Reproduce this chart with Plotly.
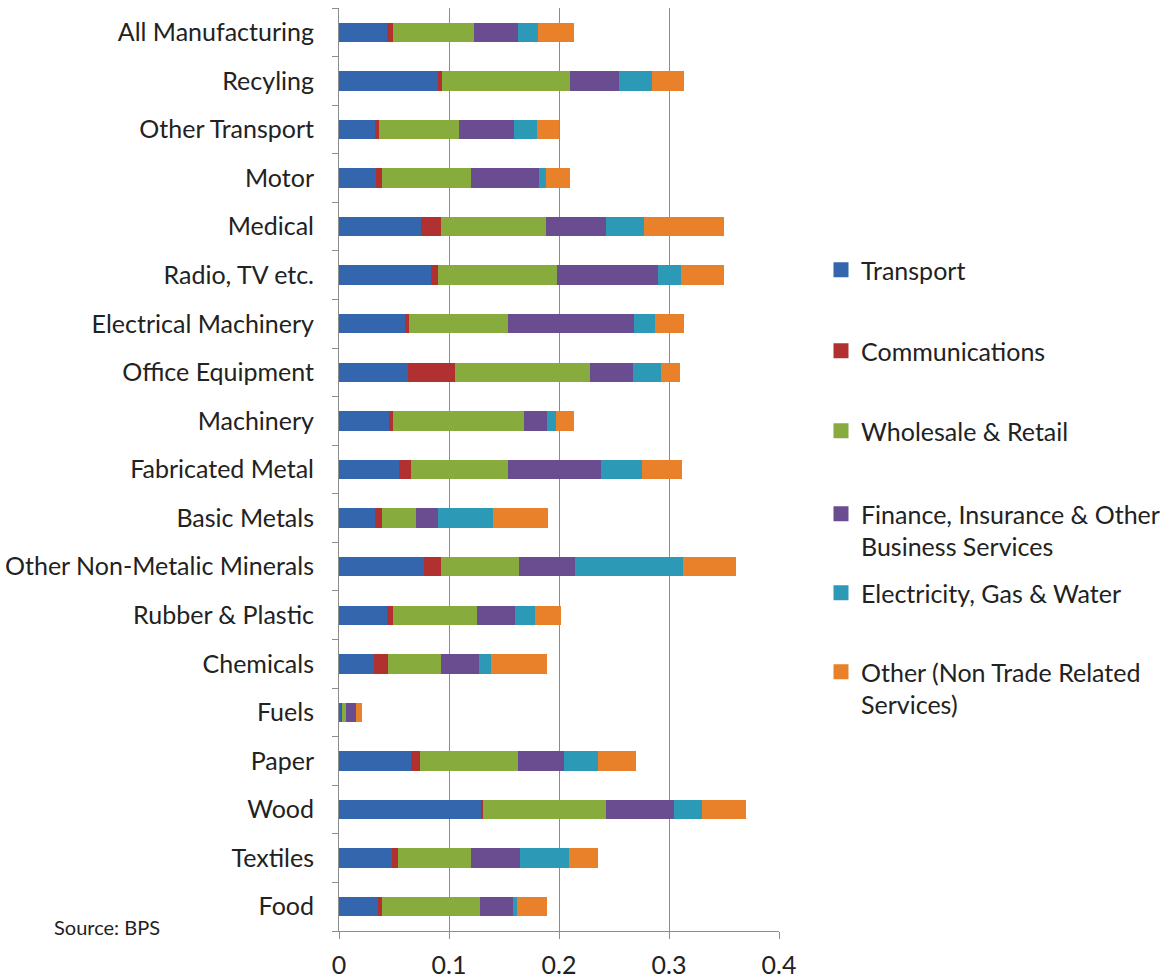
import plotly.graph_objects as go

# Industries, bottom to top
industries = [
    "Food", "Textiles", "Wood", "Paper", "Fuels", "Chemicals", "Rubber & Plastic",
    "Other Non-Metalic Minerals", "Basic Metals", "Fabricated Metal", "Machinery",
    "Office Equipment", "Electrical Machinery", "Radio, TV etc.", "Medical",
    "Motor", "Other Transport", "Recyling", "All Manufacturing",
]

transport = [0.0355, 0.0482, 0.1288, 0.0658, 0.0027, 0.0315, 0.0436, 0.0770, 0.0327, 0.0548,
             0.0455, 0.0630, 0.0597, 0.0839, 0.0748, 0.0339, 0.0327, 0.0900, 0.0436]
communications = [0.0033, 0.0057, 0.0021, 0.0081, 0.0003, 0.0130, 0.0058, 0.0154, 0.0061, 0.0107,
                  0.0039, 0.0422, 0.0036, 0.0061, 0.0176, 0.0049, 0.0040, 0.0036, 0.0058]
wholesale_retail = [0.0897, 0.0664, 0.1118, 0.0885, 0.0031, 0.0479, 0.0758, 0.0709, 0.0312, 0.0884,
                    0.1185, 0.1233, 0.0906, 0.1085, 0.0955, 0.0815, 0.0721, 0.1164, 0.0733]
finance_business = [0.0294, 0.0442, 0.0618, 0.0418, 0.0094, 0.0349, 0.0348, 0.0512, 0.0200, 0.0840,
                    0.0212, 0.0385, 0.1143, 0.0918, 0.0548, 0.0618, 0.0500, 0.0442, 0.0397]
utilities = [0.0042, 0.0446, 0.0255, 0.0313, 0.0003, 0.0106, 0.0185, 0.0979, 0.0503, 0.0373,
             0.0079, 0.0257, 0.0188, 0.0209, 0.0349, 0.0058, 0.0209, 0.0303, 0.0185]
other_services = [0.0270, 0.0267, 0.0397, 0.0348, 0.0054, 0.0512, 0.0233, 0.0488, 0.0497, 0.0369,
                  0.0163, 0.0173, 0.0263, 0.0385, 0.0721, 0.0221, 0.0206, 0.0291, 0.0324]

series = [
    ("Transport", transport, "#3366AC"),
    ("Communications", communications, "#B0312F"),
    ("Wholesale & Retail", wholesale_retail, "#87AB3D"),
    ("Finance, Insurance & Other<br>Business Services", finance_business, "#6A4C91"),
    ("Electricity, Gas & Water", utilities, "#2C9AB6"),
    ("Other (Non Trade Related<br>Services)", other_services, "#E8812A"),
]

x_ticks = [0, 0.1, 0.2, 0.3, 0.4]

font_family = "Lato, 'Open Sans', sans-serif"

W, H = 1164, 979
ML, MR, MT, MB = 339, 385, 8, 48
pw = W - ML - MR
ph = H - MT - MB

# first-line centre (px from top) of each legend entry
legend_rows = [271, 352, 432, 515, 594, 673]
legend_left = 821

fig = go.Figure()
legend_layouts = {}
for i, (name, vals, color) in enumerate(series):
    fig.add_trace(go.Bar(
        y=industries, x=vals, name=name, orientation="h",
        marker=dict(color=color, line=dict(width=0)),
        showlegend=False,
    ))
    key = "legend" if i == 0 else f"legend{i + 1}"
    fig.add_trace(go.Scatter(
        x=[None], y=[None], mode="markers", name=name,
        marker=dict(symbol="square", size=15, color=color),
        legend=key, showlegend=True, hoverinfo="skip",
    ))
    top_px = legend_rows[i] - 24
    legend_layouts[key] = dict(
        x=(legend_left - ML) / pw, y=1 - (top_px - MT) / ph,
        xanchor="left", yanchor="top", valign="top",
        font=dict(size=25, color="#222222", family=font_family),
        itemwidth=30, itemsizing="trace", bgcolor="rgba(0,0,0,0)",
    )

fig.update_layout(
    width=W, height=H,
    barmode="stack", bargap=0.6,
    plot_bgcolor="white", paper_bgcolor="white",
    margin=dict(l=ML, r=MR, t=MT, b=MB, autoexpand=False),
    font=dict(family=font_family, size=25, color="#222222"),
    showlegend=True,
    xaxis=dict(
        range=[0, 0.4], tickvals=x_ticks, ticktext=["0", "0.1", "0.2", "0.3", "0.4"],
        showgrid=True, gridcolor="#8C8C8C", gridwidth=1,
        showline=True, linecolor="#8C8C8C", linewidth=1,
        ticks="outside", ticklen=7, tickcolor="#8C8C8C",
        zeroline=False, tickfont=dict(size=25), ticklabelstandoff=5,
        automargin=False,
    ),
    yaxis=dict(
        categoryorder="array", categoryarray=industries,
        showline=True, linecolor="#8C8C8C", linewidth=1,
        ticks="outside", ticklen=6, tickcolor="#8C8C8C", tickson="boundaries",
        ticklabelstandoff=19, showgrid=False, tickfont=dict(size=25),
        automargin=False,
    ),
    annotations=[dict(
        text="Source: BPS",
        x=(52 - ML) / pw, y=(H - MB - 927) / ph, xref="paper", yref="paper",
        xanchor="left", yanchor="middle",
        showarrow=False, font=dict(size=20, color="#222222"),
    )],
    **legend_layouts,
)

fig.write_html("out.html")
